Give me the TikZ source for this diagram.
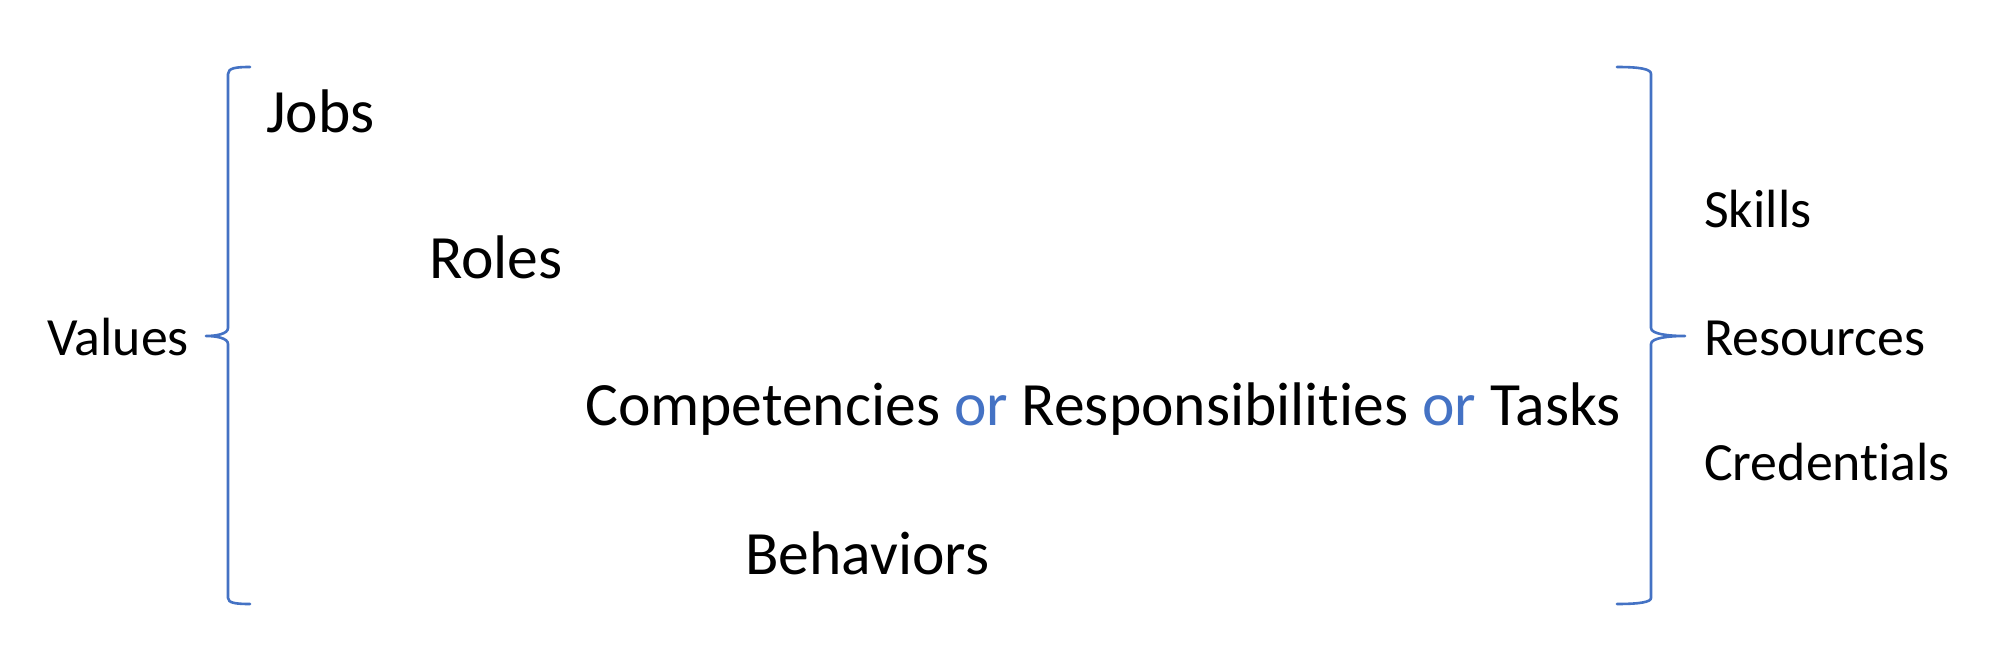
\documentclass[tikz,border=0pt]{standalone}
\usepackage{fontspec}
\setmainfont{Carlito}[Ligatures={NoCommon}]
\definecolor{braceblue}{HTML}{4472C4}
\tikzset{
  big/.style={anchor=base west,inner sep=0pt,font=\fontsize{61.8}{70}\selectfont},
  small/.style={anchor=base west,inner sep=0pt,font=\fontsize{54}{62}\selectfont},
  bracestyle/.style={draw=braceblue,line width=2.6bp,line cap=round,line join=round},
}
\newcommand{\orword}{\textcolor{braceblue}{or}}
\begin{document}
\begin{tikzpicture}[x=1bp,y=-1bp]
\useasboundingbox[fill=white] (0,0) rectangle (2006,664);
% left brace
\coordinate (lt) at (250,67);
\coordinate (lm) at (206,336);
\coordinate (lb) at (250,604);
\draw[bracestyle] (lt) .. controls (236,67) and (228,68) .. (228,74)
  -- (228,328) .. controls (228,334) and (216,336) .. (lm)
  .. controls (216,336) and (228,338) .. (228,344)
  -- (228,598) .. controls (228,603) and (236,604) .. (lb);
% right brace
\coordinate (rt) at (1617,67);
\coordinate (rm) at (1685,336);
\coordinate (rb) at (1617,604);
\draw[bracestyle] (rt) .. controls (1640,67) and (1651,69) .. (1651,74)
  -- (1651,328) .. controls (1651,334) and (1668,336) .. (rm)
  .. controls (1668,336) and (1651,338) .. (1651,344)
  -- (1651,598) .. controls (1651,602) and (1640,604) .. (rb);
% left label
\node[small] (values) at (47,355) {Values};
% hierarchy
\node[big] (jobs) at (266,133) {Jobs};
\node[big] (roles) at (429,278) {Roles};
\node[big] (comp) at (585,425) {Competencies \orword{} Responsibilities \orword{} Tasks};
\node[big] (beh) at (745,574) {Behaviors};
% right labels
\node[small] (skills) at (1704,227) {Skills};
\node[small] (res) at (1704,355) {Resources};
\node[small] (cred) at (1704,480) {Credentials};
\end{tikzpicture}
\end{document}
